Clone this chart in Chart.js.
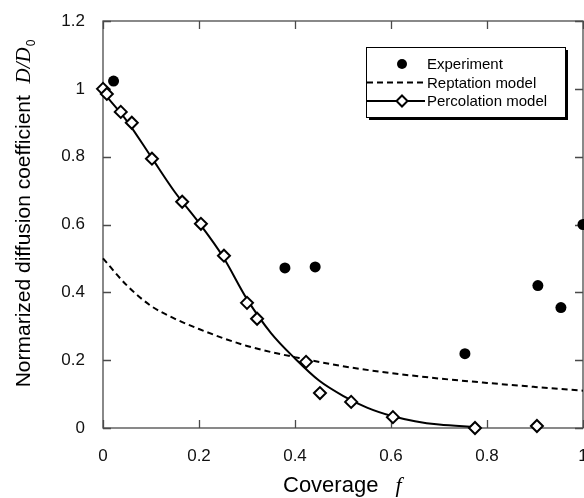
<!DOCTYPE html>
<html>
<head>
<meta charset="utf-8">
<script src="https://cdn.jsdelivr.net/npm/chart.js@4"></script>
<style>
    body { margin: 0; background: #fff; }
    canvas { display: block; }
</style>
</head>
<body>
<canvas id="chart" width="584" height="498"></canvas>
<script>
// experiment (filled circles)
var exp_x = [0.022, 0.379, 0.442, 0.754, 0.906, 0.954, 1.0];
var exp_y = [1.023, 0.472, 0.475, 0.219, 0.42, 0.355, 0.6];

// percolation model, open diamonds
var perc_x = [0, 0.008, 0.037, 0.06, 0.102, 0.165, 0.204, 0.252, 0.300, 0.321, 0.423, 0.452, 0.517, 0.604, 0.775, 0.904];
var perc_y = [1.0, 0.985, 0.932, 0.90, 0.794, 0.667, 0.602, 0.508, 0.369, 0.322, 0.195, 0.103, 0.077, 0.032, 0.0, 0.006];

// percolation model, fitted curve
var fit_x = [0, 0.05, 0.1, 0.15, 0.2, 0.25, 0.3, 0.35, 0.4, 0.45, 0.5, 0.55, 0.6, 0.65, 0.7, 0.775];
var fit_y = [0.99, 0.905, 0.80, 0.695, 0.605, 0.505, 0.38, 0.28, 0.205, 0.14, 0.095, 0.06, 0.036, 0.02, 0.01, 0.003];

// reptation model (dashed)
var rep_x = [0, 0.05, 0.1, 0.15, 0.2, 0.25, 0.3, 0.35, 0.4, 0.5, 0.6, 0.7, 0.8, 0.9, 1.0];
var rep_y = [0.5, 0.42, 0.36, 0.322, 0.292, 0.265, 0.242, 0.224, 0.209, 0.182, 0.162, 0.146, 0.133, 0.121, 0.11];

var x_ticks = [0, 0.2, 0.4, 0.6, 0.8, 1];
var y_ticks = [0, 0.2, 0.4, 0.6, 0.8, 1, 1.2];

var legend_labels = ["Experiment", "Reptation model", "Percolation model"];

function points(xs, ys) {
    var out = [];
    for (var i = 0; i < xs.length; i++) {
        out.push({x: xs[i], y: ys[i]});
    }
    return out;
}

var sans = '"Liberation Sans", Arial, sans-serif';
var serif = '"Liberation Serif", "Times New Roman", serif';

// frame with inward ticks on all four sides
var frame_plugin = {
    id: "frame",
    beforeDatasetsDraw: function(chart) {
        var ctx = chart.ctx;
        var a = chart.chartArea;
        var xs = chart.scales.x;
        var ys = chart.scales.y;
        ctx.save();
        ctx.strokeStyle = "#4a4a4a";
        ctx.lineWidth = 1.3;
        ctx.strokeRect(a.left, a.top, a.right - a.left, a.bottom - a.top);
        ctx.beginPath();
        for (var t of x_ticks) {
            var px = Math.round(xs.getPixelForValue(t)) + 0.5;
            ctx.moveTo(px, a.bottom); ctx.lineTo(px, a.bottom - 8);
            ctx.moveTo(px, a.top); ctx.lineTo(px, a.top + 8);
        }
        for (var t of y_ticks) {
            var py = Math.round(ys.getPixelForValue(t)) + 0.5;
            ctx.moveTo(a.left, py); ctx.lineTo(a.left + 8, py);
            ctx.moveTo(a.right, py); ctx.lineTo(a.right - 8, py);
        }
        ctx.stroke();
        ctx.restore();
    },

    afterDraw: function(chart) {
        var ctx = chart.ctx;
        ctx.save();
        ctx.fillStyle = "#000";
        ctx.textBaseline = "alphabetic";

        //x title: "Coverage  f"
        ctx.font = "22px " + sans;
        ctx.fillText("Coverage", 283, 492);
        var w1 = ctx.measureText("Coverage").width;
        ctx.font = "italic 22px " + serif;
        ctx.fillText("f", 283 + w1 + 17, 492);

        //y title, rotated
        ctx.translate(30, 214);
        ctx.rotate(-Math.PI / 2);
        var main = "Normarized diffusion coefficient  ";
        ctx.font = "21px " + sans;
        var m1 = ctx.measureText(main).width;
        ctx.font = "italic 21px " + serif;
        var m2 = ctx.measureText("D/D").width;
        ctx.font = "12px " + sans;
        var m3 = ctx.measureText("0").width;
        var sx = -(m1 + m2 + m3) / 2;
        ctx.font = "21px " + sans;
        ctx.fillText(main, sx, 0);
        ctx.font = "italic 21px " + serif;
        ctx.fillText("D/D", sx + m1, 0);
        ctx.font = "12px " + sans;
        ctx.fillText("0", sx + m1 + m2 + 1, 5);
        ctx.restore();

        //legend box with shadow
        ctx.save();
        var bx = 366, by = 47, bw = 199, bh = 70;
        ctx.fillStyle = "#000";
        ctx.fillRect(bx + 3, by + 3, bw, bh);
        ctx.fillStyle = "#fff";
        ctx.fillRect(bx, by, bw, bh);
        ctx.strokeStyle = "#000";
        ctx.lineWidth = 1;
        ctx.strokeRect(bx + 0.5, by + 0.5, bw, bh);

        var rows = [64, 82.5, 101];
        ctx.font = "15px " + sans;
        ctx.textBaseline = "middle";
        ctx.fillStyle = "#000";
        for (var i = 0; i < legend_labels.length; i++) {
            ctx.fillText(legend_labels[i], 427, rows[i] + 1);
        }
        // experiment marker
        ctx.beginPath();
        ctx.arc(402, rows[0], 5, 0, Math.PI * 2);
        ctx.fill();
        // dashed sample
        ctx.lineWidth = 2;
        ctx.setLineDash([6, 4]);
        ctx.beginPath();
        ctx.moveTo(367, rows[1]); ctx.lineTo(425, rows[1]);
        ctx.stroke();
        // solid + diamond sample
        ctx.setLineDash([]);
        ctx.beginPath();
        ctx.moveTo(367, rows[2]); ctx.lineTo(425, rows[2]);
        ctx.stroke();
        ctx.fillStyle = "#fff";
        ctx.beginPath();
        ctx.moveTo(402, rows[2] - 5.5); ctx.lineTo(407.5, rows[2]);
        ctx.lineTo(402, rows[2] + 5.5); ctx.lineTo(396.5, rows[2]);
        ctx.closePath();
        ctx.fill();
        ctx.stroke();
        ctx.restore();
    }
};

function no_padding(scale) {
    scale.paddingLeft = 0;
    scale.paddingRight = 0;
    scale.paddingTop = 0;
    scale.paddingBottom = 0;
}

var chart = new Chart(document.getElementById("chart"), {
    type: "scatter",
    data: {
        datasets: [
            {
                label: "Experiment",
                data: points(exp_x, exp_y),
                backgroundColor: "#000",
                borderColor: "#000",
                pointRadius: 5.5,
                pointBorderWidth: 0,
                showLine: false,
                clip: false,
                order: 0
            },
            {
                label: "Percolation model",
                data: points(perc_x, perc_y),
                pointStyle: "rectRot",
                backgroundColor: "#fff",
                borderColor: "#000",
                pointRadius: 6,
                pointBorderWidth: 2,
                showLine: false,
                clip: false,
                order: 1
            },
            {
                label: "fit",
                data: points(fit_x, fit_y),
                borderColor: "#000",
                borderWidth: 2,
                pointRadius: 0,
                showLine: true,
                cubicInterpolationMode: "monotone",
                clip: false,
                order: 2
            },
            {
                label: "Reptation model",
                data: points(rep_x, rep_y),
                borderColor: "#000",
                borderWidth: 2,
                borderDash: [6, 4],
                pointRadius: 0,
                showLine: true,
                cubicInterpolationMode: "monotone",
                clip: false,
                order: 3
            }
        ]
    },
    options: {
        responsive: false,
        animation: false,
        events: [],
        layout: {
            autoPadding: false,
            padding: {left: 0, right: 1, top: 21, bottom: 0}
        },
        plugins: {
            legend: {display: false},
            tooltip: {enabled: false}
        },
        scales: {
            x: {
                type: "linear",
                min: 0,
                max: 1,
                grid: {display: false},
                border: {display: false},
                afterBuildTicks: function(scale) {
                    scale.ticks = x_ticks.map(function(v) { return {value: v}; });
                },
                afterFit: function(scale) {
                    scale.height = 70;
                    no_padding(scale);
                },
                ticks: {
                    padding: 10,
                    color: "#111",
                    font: {family: sans, size: 17},
                    maxRotation: 0,
                    autoSkip: false,
                    callback: function(v) { return String(v); }
                }
            },
            y: {
                type: "linear",
                min: 0,
                max: 1.2,
                grid: {display: false},
                border: {display: false},
                afterBuildTicks: function(scale) {
                    scale.ticks = y_ticks.map(function(v) { return {value: v}; });
                },
                afterFit: function(scale) {
                    scale.width = 103;
                    no_padding(scale);
                },
                ticks: {
                    padding: 10,
                    color: "#111",
                    font: {family: sans, size: 17},
                    autoSkip: false,
                    callback: function(v) { return String(v); }
                }
            }
        }
    },
    plugins: [frame_plugin]
});
</script>
</body>
</html>
